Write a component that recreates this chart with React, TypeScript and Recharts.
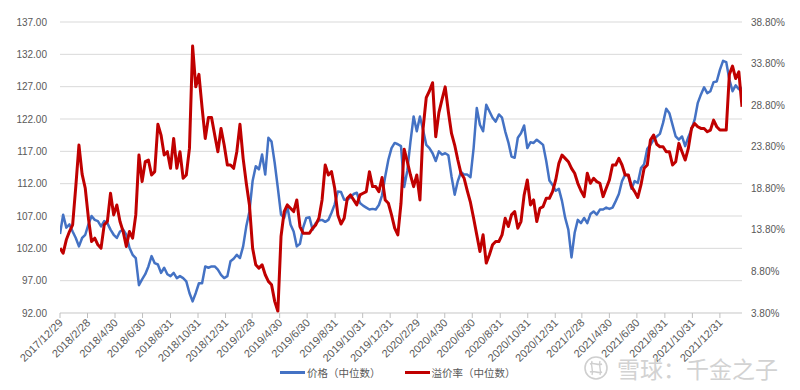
import { LineChart, Line, XAxis, YAxis, CartesianGrid } from "recharts"

const START = "2017/12/29"

const tickDates = [
  "2017/12/29", "2018/2/28", "2018/4/30", "2018/6/30", "2018/8/31", "2018/10/31",
  "2018/12/31", "2019/2/28", "2019/4/30", "2019/6/30", "2019/8/31", "2019/10/31",
  "2019/12/31", "2020/2/29", "2020/4/30", "2020/6/30", "2020/8/31", "2020/10/31",
  "2020/12/31", "2021/2/28", "2021/4/30", "2021/6/30", "2021/8/31", "2021/10/31",
  "2021/12/31",
]

// 价格（中位数）, one value per week starting 2017/12/29
const priceMedian = [
  104.2, 107.2, 105.2, 105.7, 104.6, 103.6, 102.3, 103.6, 104.1, 105.7,
  107.0, 106.4, 106.2, 105.4, 106.2, 105.9, 104.9, 104.1, 103.6, 104.6,
  104.9, 104.1, 102.1, 101.0, 100.5, 96.3, 97.2, 98.0, 99.2, 100.8,
  99.7, 99.5, 98.2, 99.0, 98.0, 97.7, 98.2, 97.4, 97.7, 97.4,
  96.9, 95.1, 93.8, 95.1, 96.6, 96.6, 99.2, 99.0, 99.2, 99.2,
  98.7, 97.9, 97.4, 97.7, 100.0, 100.4, 101.0, 100.5, 102.3, 105.4,
  107.7, 112.4, 114.7, 114.2, 116.5, 113.4, 119.1, 118.5, 115.2, 111.3,
  107.2, 106.7, 108.5, 105.7, 104.6, 102.3, 102.7, 105.2, 106.7, 106.8,
  104.9, 105.9, 106.3, 106.4, 106.1, 106.4, 107.5, 108.8, 110.8, 110.7,
  109.5, 109.5, 109.9, 110.4, 110.6, 109.0, 108.6, 108.3, 108.0, 108.1,
  108.0, 108.7, 110.2, 113.1, 115.7, 117.5, 118.3, 118.1, 117.8, 111.5,
  114.0, 118.5, 122.4, 120.1, 122.4, 120.3, 118.0, 117.5, 116.7, 115.5,
  117.0, 116.5, 116.7, 116.4, 113.1, 110.3, 112.4, 113.8, 113.4, 113.4,
  113.0, 117.5, 123.7, 121.1, 120.1, 124.2, 123.2, 122.2, 121.6, 122.7,
  122.2, 120.1, 118.4, 116.2, 116.0, 119.1, 119.8, 121.0, 117.5, 118.4,
  118.3, 118.8, 118.4, 118.0, 115.5, 112.5, 111.8, 110.9, 111.2, 109.3,
  106.7, 104.9, 100.6, 104.4, 106.4, 105.9, 106.7, 105.9, 107.3, 107.7,
  107.2, 108.0, 108.0, 108.3, 108.1, 108.3, 109.3, 110.4, 112.4, 113.4,
  113.3, 111.2, 112.4, 112.1, 114.4, 115.0, 117.4, 118.0, 118.8, 119.3,
  119.7, 121.4, 123.6, 122.9, 121.1, 119.3, 118.8, 119.3, 117.8, 119.2,
  120.4, 121.9, 124.5, 125.8, 126.9, 126.0, 126.3, 127.7, 127.8, 129.6,
  131.0, 130.8, 128.1, 126.3, 127.2, 126.6, 126.8,
]

// 溢价率（中位数）, in percent, same weeks
const premiumMedian = [
  11.6, 11.0, 12.6, 13.6, 14.4, 19.0, 24.0, 20.5, 18.8, 15.2,
  12.4, 12.8, 12.0, 11.6, 14.4, 14.8, 18.2, 15.6, 16.8, 14.8,
  13.6, 11.8, 13.6, 12.8, 15.6, 22.8, 19.6, 22.0, 22.2, 20.4,
  20.8, 26.5, 25.2, 22.8, 23.2, 21.2, 24.8, 21.2, 23.2, 20.0,
  20.4, 23.6, 35.9, 31.0, 32.5, 28.5, 24.8, 27.3, 27.3, 25.2,
  23.2, 26.0, 24.0, 21.6, 21.6, 21.2, 23.2, 26.5, 22.4, 19.4,
  16.8, 11.6, 9.6, 9.2, 9.6, 8.4, 7.6, 7.2, 5.2, 4.0,
  13.0, 16.0, 16.8, 16.4, 16.0, 17.4, 14.2, 13.4, 13.4, 13.4,
  14.0, 14.4, 15.2, 17.4, 21.6, 20.4, 20.8, 18.8, 15.6, 14.5,
  15.2, 17.6, 18.0, 17.4, 16.8, 18.0, 18.2, 18.4, 20.8, 19.0,
  19.0, 18.4, 20.1, 17.4, 17.0, 15.6, 14.0, 13.2, 17.0, 23.5,
  22.0, 20.4, 19.0, 20.4, 17.4, 26.0, 29.7, 30.5, 31.5, 25.0,
  27.9, 29.5, 31.0, 28.0, 25.4, 24.0, 22.2, 20.6, 20.0, 18.5,
  17.1, 15.2, 13.2, 11.2, 13.2, 9.8, 10.8, 12.0, 12.4, 12.4,
  13.2, 15.2, 14.2, 15.6, 16.0, 14.0, 14.8, 18.0, 19.8, 16.8,
  17.4, 14.8, 16.4, 16.6, 17.6, 17.6, 18.4, 19.8, 21.8, 22.8,
  22.4, 22.0, 21.2, 20.6, 19.4, 18.5, 17.8, 20.6, 19.4, 20.0,
  19.6, 19.4, 17.8, 18.8, 19.8, 21.6, 21.6, 22.4, 21.6, 20.4,
  20.4, 19.0, 18.4, 17.7, 19.2, 21.2, 21.6, 24.6, 25.2, 24.1,
  23.8, 23.8, 23.2, 23.2, 21.6, 22.0, 24.2, 23.2, 22.2, 23.6,
  26.0, 26.6, 26.2, 26.0, 26.0, 25.6, 25.8, 27.0, 26.2, 25.8,
  25.8, 25.8, 32.5, 33.5, 32.0, 32.8, 28.6,
]

const priceTicks = [92, 97, 102, 107, 112, 117, 122, 127, 132, 137]
const premiumTicks = [3.8, 8.8, 13.8, 18.8, 23.8, 28.8, 33.8, 38.8]

const FONT = "'Liberation Sans', 'Noto Sans CJK SC', sans-serif"
const CJK = "'Noto Sans CJK SC', sans-serif"
const BLUE = "#4472C4"
const RED = "#C00000"
const TEXT = "#595959"

const toDay = (s: string) => {
  const [y, m, d] = s.split("/").map(Number)
  const [y0, m0, d0] = START.split("/").map(Number)
  return Math.round((Date.UTC(y, m - 1, d) - Date.UTC(y0, m0 - 1, d0)) / 86400000)
}

const tickDays = tickDates.map(toDay)
const labelByDay = new Map(tickDays.map((d, i) => [d, tickDates[i]]))

const data = priceMedian.map((p, i) => ({
  day: i * 7,
  price: p,
  premium: premiumMedian[i],
}))

function DateTick({ x, y, payload }: any) {
  return (
    <g transform={`translate(${x},${y})`}>
      <text
        x={0}
        y={0}
        dy={5}
        textAnchor="end"
        transform="rotate(-45)"
        fill={TEXT}
        fontSize={11}
        fontFamily={FONT}
      >
        {labelByDay.get(payload.value)}
      </text>
    </g>
  )
}

export default function App() {
  return (
    <div style={{ position: "relative", width: 800, height: 390, background: "#fff" }}>
      <style>{"body{margin:0}"}</style>

      <LineChart
        width={800}
        height={390}
        data={data}
        margin={{ top: 22, right: 0, bottom: 0, left: 0 }}
      >
        <CartesianGrid yAxisId="left" vertical={false} stroke="#d9d9d9" />
        <XAxis
          dataKey="day"
          type="number"
          domain={[0, (priceMedian.length - 1) * 7]}
          ticks={tickDays}
          interval={0}
          height={77}
          tickSize={5}
          axisLine={{ stroke: "#d9d9d9" }}
          tickLine={{ stroke: "#bfbfbf" }}
          tick={<DateTick />}
          allowDataOverflow
        />
        <YAxis
          yAxisId="left"
          domain={[92, 137]}
          ticks={priceTicks}
          interval={0}
          tickFormatter={(v: number) => v.toFixed(2)}
          width={60}
          axisLine={false}
          tickLine={false}
          tickMargin={7}
          tick={{ fill: TEXT, fontSize: 10, fontFamily: FONT }}
          allowDataOverflow
        />
        <YAxis
          yAxisId="right"
          orientation="right"
          domain={[3.8, 38.8]}
          ticks={premiumTicks}
          interval={0}
          tickFormatter={(v: number) => `${v.toFixed(2)}%`}
          width={58}
          axisLine={false}
          tickLine={false}
          tickMargin={3}
          tick={{ fill: TEXT, fontSize: 10, fontFamily: FONT, textAnchor: "start" }}
          allowDataOverflow
        />
        <Line
          yAxisId="left"
          dataKey="price"
          stroke={BLUE}
          strokeWidth={2.5}
          strokeLinejoin="round"
          dot={false}
          isAnimationActive={false}
        />
        <Line
          yAxisId="right"
          dataKey="premium"
          stroke={RED}
          strokeWidth={3}
          strokeLinejoin="round"
          dot={false}
          isAnimationActive={false}
        />
      </LineChart>

      {/* Legend */}
      <div style={{ position: "absolute", left: 280, top: 364, height: 16, display: "flex", alignItems: "center", fontFamily: CJK, fontSize: 10.5, color: TEXT }}>
        <span style={{ width: 25, height: 3, background: BLUE, marginRight: 2 }} />
        <span>价格（中位数）</span>
        <span style={{ width: 25, height: 3, background: RED, marginLeft: 24, marginRight: 2 }} />
        <span>溢价率（中位数）</span>
      </div>

      {/* Watermark */}
      <div style={{ position: "absolute", left: 583, top: 351, display: "flex", alignItems: "center", pointerEvents: "none" }}>
        <svg width={26} height={26} viewBox="0 0 26 26">
          <circle cx={13} cy={13} r={11} fill="none" stroke="#cfcfcf" strokeWidth={1.6} />
          <path d="M7 9 C11 7, 15 11, 19 9 M7 17 C11 15, 15 19, 19 17 M9 6 C7 11, 11 15, 9 20 M17 6 C15 11, 19 15, 17 20" fill="none" stroke="#cfcfcf" strokeWidth={1.4} />
        </svg>
        <span style={{ marginLeft: 8, fontFamily: CJK, fontSize: 23, color: "#d2d2d2" }}>
          雪球：千金之子
        </span>
      </div>
    </div>
  )
}
